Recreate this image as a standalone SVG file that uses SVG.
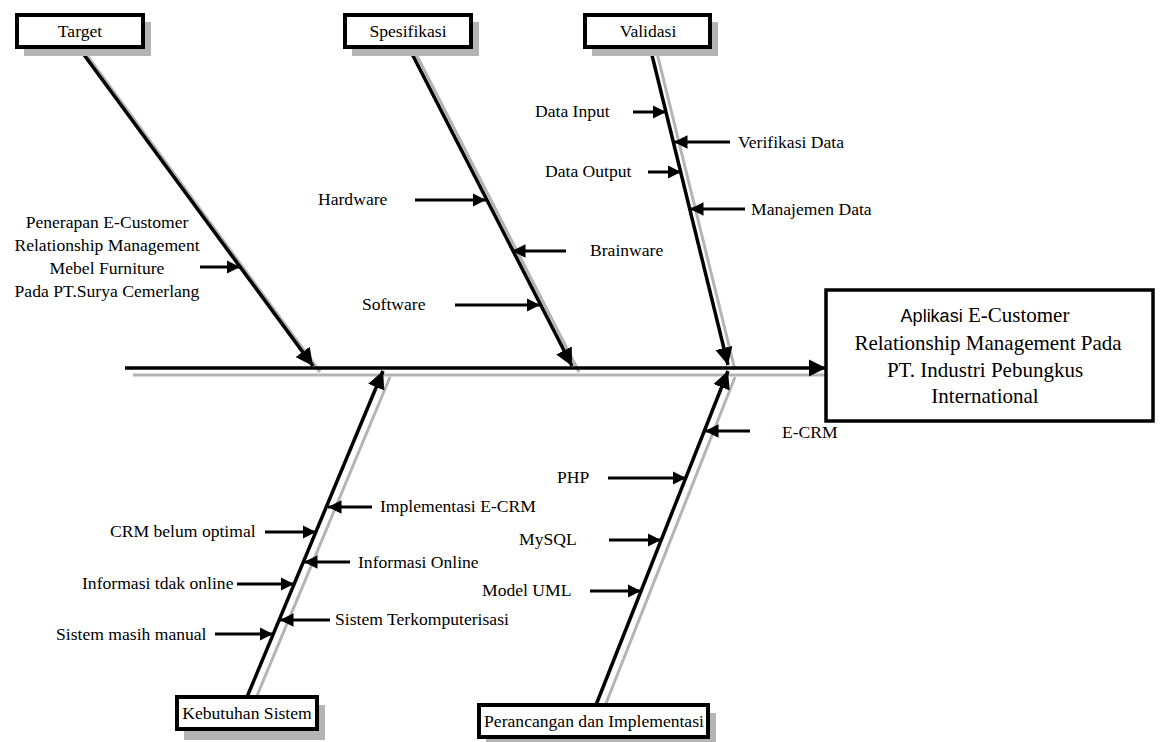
<svg xmlns="http://www.w3.org/2000/svg" width="1160" height="742" viewBox="0 0 1160 742">
<defs>
<style>
.t{font-family:"Liberation Serif","Times New Roman",serif;font-size:17.6px;fill:#000}
.tb{font-family:"Liberation Serif","Times New Roman",serif;font-size:21px;fill:#000}
.box{fill:#fff;stroke:#000;stroke-width:4}
.ebox{fill:#fff;stroke:#000;stroke-width:3.5}
.sh{fill:#b4b4b4;stroke:none}
.shl{stroke:#b4b4b4;stroke-width:3;fill:none}
.main{stroke:#000;stroke-width:3.5;fill:none}
.sub{stroke:#000;stroke-width:3;fill:none;marker-end:url(#sa)}
</style>
<marker id="ma" viewBox="0 0 10 10" refX="10" refY="5" markerWidth="5" markerHeight="5" markerUnits="strokeWidth" orient="auto">
<path d="M0,0 L10,5 L0,10 z" fill="#000"/>
</marker>
<marker id="sa" viewBox="0 0 10 10" refX="10" refY="5" markerWidth="4.5" markerHeight="4.5" markerUnits="strokeWidth" orient="auto">
<path d="M0,0 L10,5 L0,10 z" fill="#000"/>
</marker>
</defs>
<rect width="1160" height="742" fill="#fff"/>

<g id="shadows">
<line class="shl" x1="133" y1="375" x2="828" y2="375"/>
<line class="shl" x1="86" y1="54" x2="320" y2="372"/>
<line class="shl" x1="415" y1="52" x2="579" y2="372"/>
<line class="shl" x1="657" y1="53" x2="735" y2="370"/>
<line class="shl" x1="254" y1="703" x2="390" y2="377"/>
<line class="shl" x1="603" y1="711" x2="735" y2="377"/>
</g>

<g id="connectors">
<line class="main" x1="125" y1="368" x2="826" y2="368" marker-end="url(#ma)"/>
<line class="main" x1="79" y1="48" x2="313" y2="366" marker-end="url(#ma)"/>
<line class="main" x1="408" y1="46" x2="572" y2="366" marker-end="url(#ma)"/>
<line class="main" x1="650" y1="47" x2="728" y2="365" marker-end="url(#ma)"/>
<line class="main" x1="247" y1="697" x2="383" y2="371" marker-end="url(#ma)"/>
<line class="main" x1="596" y1="705" x2="728" y2="371" marker-end="url(#ma)"/>

<line class="sub" x1="200" y1="267" x2="240" y2="267"/>
<line class="sub" x1="415" y1="200" x2="486" y2="200"/>
<line class="sub" x1="566" y1="251" x2="512" y2="251"/>
<line class="sub" x1="455" y1="305" x2="540" y2="305"/>
<line class="sub" x1="633" y1="112" x2="666" y2="112"/>
<line class="sub" x1="730" y1="142" x2="674" y2="142"/>
<line class="sub" x1="648" y1="172" x2="681" y2="172"/>
<line class="sub" x1="745" y1="209" x2="690" y2="209"/>
<line class="sub" x1="750" y1="431" x2="705" y2="431"/>
<line class="sub" x1="608" y1="478" x2="686" y2="478"/>
<line class="sub" x1="609" y1="540" x2="661" y2="540"/>
<line class="sub" x1="590" y1="591" x2="641" y2="591"/>
<line class="sub" x1="372" y1="507" x2="328" y2="507"/>
<line class="sub" x1="265" y1="532" x2="316" y2="532"/>
<line class="sub" x1="350" y1="562" x2="304" y2="562"/>
<line class="sub" x1="237" y1="584" x2="294" y2="584"/>
<line class="sub" x1="330" y1="620" x2="280" y2="620"/>
<line class="sub" x1="215" y1="634" x2="273" y2="634"/>
</g>

<g id="target">
<rect class="sh" x="24" y="22" width="127" height="34"/>
<rect class="box" x="17" y="15" width="126" height="32"/>
<text class="t" x="80" y="37" text-anchor="middle">Target</text>
</g>
<g id="spesifikasi">
<rect class="sh" x="352" y="22" width="127" height="34"/>
<rect class="box" x="345" y="15" width="126" height="32"/>
<text class="t" x="408" y="37" text-anchor="middle">Spesifikasi</text>
</g>
<g id="validasi">
<rect class="sh" x="592" y="22" width="126" height="34"/>
<rect class="box" x="585" y="15" width="125" height="32"/>
<text class="t" x="648" y="37" text-anchor="middle">Validasi</text>
</g>
<g id="kebutuhan">
<rect class="sh" x="184" y="705" width="141" height="35"/>
<rect class="box" x="177" y="697" width="140" height="32"/>
<text class="t" x="247" y="719" text-anchor="middle">Kebutuhan Sistem</text>
</g>
<g id="perancangan">
<rect class="sh" x="486" y="713" width="230" height="29"/>
<rect class="box" x="479" y="705" width="229" height="32"/>
<text class="t" x="594" y="727" text-anchor="middle">Perancangan dan Implementasi</text>
</g>
<g id="effect">
<rect class="ebox" x="826" y="290" width="327" height="131"/>
<text class="tb" x="985" y="322" text-anchor="middle"><tspan font-family="'Liberation Sans',Arial,sans-serif" font-size="18">Aplikasi</tspan> E-Customer</text>
<text class="tb" x="988" y="350" text-anchor="middle">Relationship Management Pada</text>
<text class="tb" x="985" y="377" text-anchor="middle">PT. Industri Pebungkus</text>
<text class="tb" x="985" y="403" text-anchor="middle">International</text>
</g>

<g id="labels">
<text class="t" text-anchor="middle" x="107" y="228">Penerapan E-Customer</text>
<text class="t" text-anchor="middle" x="107" y="251">Relationship Management</text>
<text class="t" text-anchor="middle" x="107" y="274">Mebel Furniture</text>
<text class="t" text-anchor="middle" x="107" y="297">Pada PT.Surya Cemerlang</text>
<text class="t" x="318" y="205">Hardware</text>
<text class="t" x="590" y="256">Brainware</text>
<text class="t" x="362" y="310">Software</text>
<text class="t" x="535" y="117">Data Input</text>
<text class="t" x="738" y="148">Verifikasi Data</text>
<text class="t" x="545" y="177">Data Output</text>
<text class="t" x="751" y="215">Manajemen Data</text>
<text class="t" x="782" y="438">E-CRM</text>
<text class="t" x="557" y="483">PHP</text>
<text class="t" x="519" y="545">MySQL</text>
<text class="t" x="482" y="596">Model UML</text>
<text class="t" x="380" y="512">Implementasi E-CRM</text>
<text class="t" x="110" y="537">CRM belum optimal</text>
<text class="t" x="358" y="568">Informasi Online</text>
<text class="t" x="82" y="589">Informasi tdak online</text>
<text class="t" x="335" y="625">Sistem Terkomputerisasi</text>
<text class="t" x="56" y="640">Sistem masih manual</text>
</g>
</svg>
